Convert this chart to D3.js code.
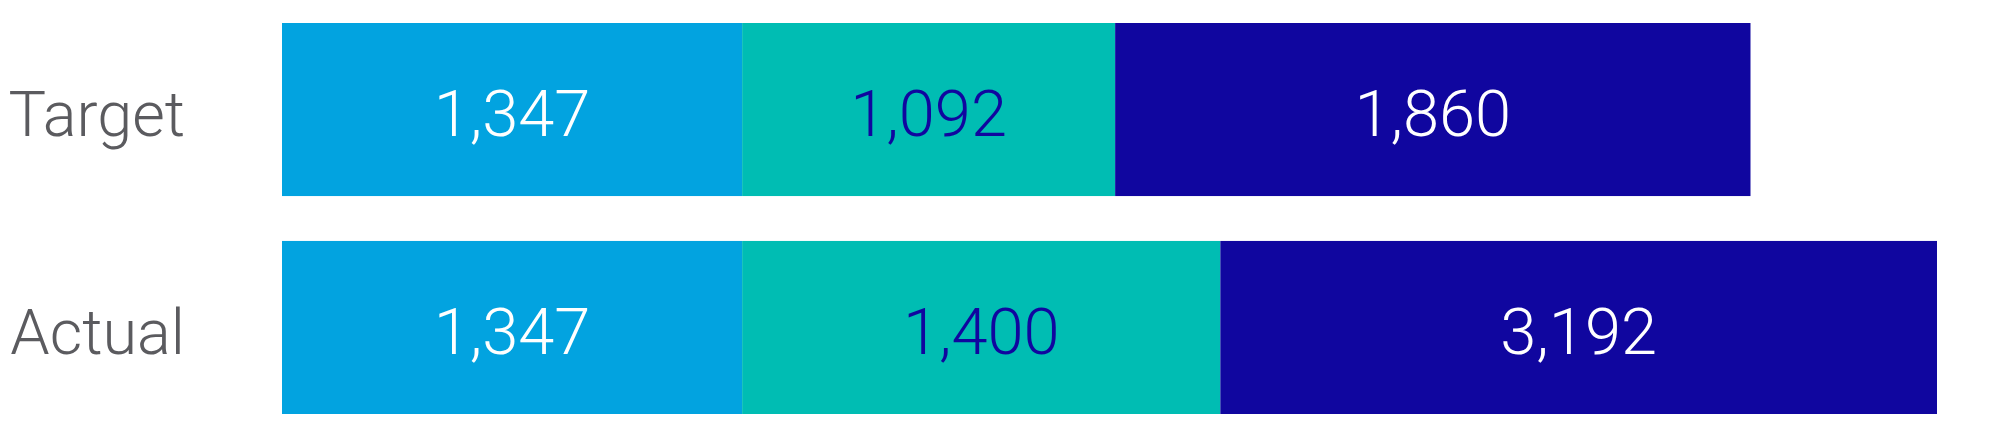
<!DOCTYPE html>
<html lang="en">
<head>
    <meta charset="UTF-8">
    <title>Target vs Actual</title>
    <script src="https://d3js.org/d3.v7.min.js"></script>
    <style>
        body {
            margin: 0;
            background-color: white;
            font-family: Roboto, "Liberation Sans", sans-serif;
        }
        svg {
            display: block;
        }
    </style>
</head>
<body>
    <script>
        // Data
        const categories = ["Target", "Actual"];
        const segments = ["first", "second", "third"];
        const targetValues = [1347, 1092, 1860];
        const actualValues = [1347, 1400, 3192];
        const segmentColors = ["#02a3e0", "#00bdb3", "#10069f"];
        const labelColors = ["#ffffff", "#10069f", "#ffffff"];

        const width = 1992;
        const height = 438;

        const svg = d3.select("body").append("svg")
            .attr("width", width)
            .attr("height", height);

        // build stacked rows
        const rows = categories.map((c, i) => {
            const vals = i === 0 ? targetValues : actualValues;
            let start = 0;
            return {
                category: c,
                parts: vals.map((v, j) => {
                    const p = {category: c, key: segments[j], value: v, x0: start, x1: start + v};
                    start += v;
                    return p;
                })
            };
        });

        // Scales (the right end of the axis clips the longest bar)
        const xScale = d3.scaleLinear()
            .domain([0, 4845])
            .range([282, 1937])
            .clamp(true);

        const yScale = d3.scaleBand()
            .domain(categories)
            .range([23, 414])
            .paddingInner(0.206)
            .paddingOuter(0);

        const color = d3.scaleOrdinal().domain(segments).range(segmentColors);
        const textColor = d3.scaleOrdinal().domain(segments).range(labelColors);

        const fmt = d3.format(",");

        const row = svg.selectAll(".row")
            .data(rows)
            .enter()
            .append("g")
            .attr("class", "row")
            .attr("transform", d => `translate(0,${yScale(d.category)})`);

        row.selectAll("rect")
            .data(d => d.parts)
            .enter()
            .append("rect")
            .attr("x", d => xScale(d.x0))
            .attr("y", 0)
            .attr("width", d => xScale(d.x1) - xScale(d.x0))
            .attr("height", yScale.bandwidth())
            .attr("fill", d => color(d.key));

        row.selectAll(".val")
            .data(d => d.parts)
            .enter()
            .append("text")
            .attr("class", "val")
            .attr("x", d => (xScale(d.x0) + xScale(d.x1)) / 2)
            .attr("y", yScale.bandwidth() / 2)
            .attr("dy", "0.41em")
            .attr("text-anchor", "middle")
            .style("font-size", "65px")
            .style("font-weight", 300)
            .attr("fill", d => textColor(d.key))
            .text(d => fmt(d.value));

        // category labels
        svg.selectAll(".cat")
            .data(categories)
            .enter()
            .append("text")
            .attr("class", "cat")
            .attr("x", 185)
            .attr("y", d => yScale(d) + yScale.bandwidth() / 2)
            .attr("dy", "0.42em")
            .attr("text-anchor", "end")
            .style("font-size", "63px")
            .style("font-weight", 300)
            .attr("fill", "#5b5b5f")
            .text(d => d);
    </script>
</body>
</html>
